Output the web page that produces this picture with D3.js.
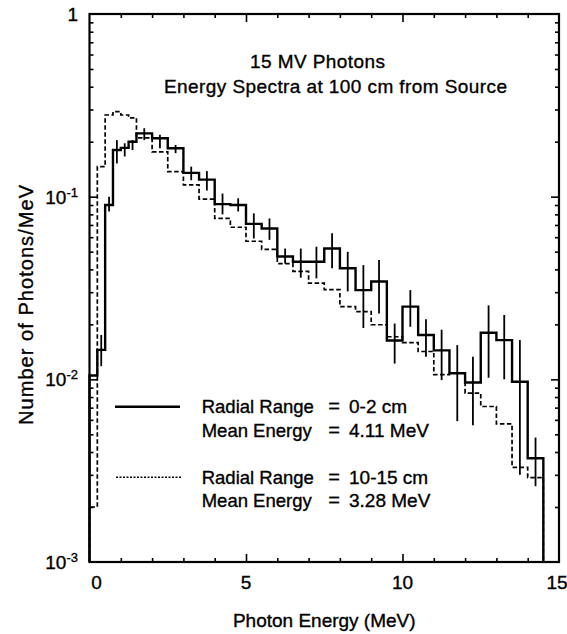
<!DOCTYPE html>
<html>
<head>
<meta charset="utf-8">
<script src="https://cdn.jsdelivr.net/npm/d3@7/dist/d3.min.js"></script>
<style>
  html, body { margin: 0; padding: 0; background: #fff; }
  svg text { font-family: "Liberation Sans", Arial, Helvetica, sans-serif; fill: #000; stroke: #000; stroke-width: 0.35; }
</style>
</head>
<body>
<svg id="chart" width="567" height="634"></svg>
<script>
// ---- data ----
const binEdges = [0, 0.25, 0.5, 0.75, 1.0, 1.25, 1.5, 2.0, 2.5, 3.0, 3.5, 4.0, 4.5, 5.0, 5.5, 6.0, 6.5, 7.0, 7.5, 8.0, 8.5, 9.0, 9.5, 10.0, 10.5, 11.0, 11.5, 12.0, 12.5, 13.0, 13.5, 14.0, 14.5];
// Radial Range 0-2 cm (solid)
const solidValues = [0.0105, 0.0145, 0.09, 0.18, 0.185, 0.20, 0.222, 0.209, 0.184, 0.135, 0.124, 0.091, 0.090, 0.071, 0.067, 0.047, 0.044, 0.044, 0.052, 0.0406, 0.0308, 0.0343, 0.0163, 0.025, 0.0175, 0.0144, 0.0108, 0.0096, 0.018, 0.0164, 0.0097, 0.0037];
const solidErrLow  = [null, 0.0118, 0.083, 0.152, 0.166, 0.180, 0.204, 0.184, 0.173, 0.123, 0.108, 0.080, 0.083, 0.059, 0.058, 0.043, 0.036, 0.0357, 0.0406, 0.0303, 0.0191, 0.0229, 0.0122, 0.0194, 0.0133, 0.0099, 0.0059, 0.0056, 0.0102, 0.0100, 0.0030, 0.0026];
const solidErrHigh = [null, 0.0175, 0.100, 0.204, 0.196, 0.204, 0.237, 0.218, 0.192, 0.146, 0.138, 0.104, 0.098, 0.081, 0.076, 0.052, 0.052, 0.0532, 0.063, 0.0499, 0.0422, 0.045, 0.0202, 0.0308, 0.0213, 0.0187, 0.0154, 0.0133, 0.0254, 0.0225, 0.0164, 0.0048];
// Radial Range 10-15 cm (dashed)
const dashedValues = [0.002, 0.146, 0.28, 0.292, 0.28, 0.27, 0.21, 0.176, 0.137, 0.116, 0.097, 0.076, 0.068, 0.057, 0.0515, 0.043, 0.039, 0.0336, 0.031, 0.025, 0.0235, 0.0199, 0.0171, 0.0159, 0.0142, 0.0106, 0.0108, 0.0084, 0.0071, 0.0057, 0.0033, 0.0029];

const xTickLabels = [0, 5, 10, 15];
const yMajorTicks = [1, 0.1, 0.01, 0.001];
const yTickLabels = [["1", ""], ["10", "-1"], ["10", "-2"], ["10", "-3"]];
const titleLines = ["15 MV Photons", "Energy Spectra at 100 cm from Source"];
const legendLabels = [["Radial Range", "0-2 cm"], ["Mean Energy", "4.11 MeV"], ["Radial Range", "10-15 cm"], ["Mean Energy", "3.28 MeV"]];
const xAxisTitle = "Photon Energy (MeV)";
const yAxisTitle = "Number of Photons/MeV";

// ---- layout ----
const L = 89.5, R = 559, T = 14, B = 562;
const svg = d3.select("#chart");
const x = d3.scaleLinear().domain([0, 15]).range([L, R]);
const y = d3.scaleLog().domain([1e-3, 1]).range([B, T]).clamp(true);

const xMinor = d3.range(1, 15).filter(d => d % 5 !== 0);
const xMajor = [5, 10];
const yMinor = [];
[0.001, 0.01, 0.1].forEach(p => { for (let k = 2; k <= 9; k++) yMinor.push(p * k); });
const yMajorInner = [0.1, 0.01];

function styleAxis(g) {
  g.select(".domain").remove();
  g.selectAll(".tick line").attr("stroke", "#000").attr("stroke-width", 1.6);
  g.selectAll(".tick text").remove();
}
svg.append("g").attr("transform", `translate(0,${B})`).call(d3.axisBottom(x).tickValues(xMinor).tickSize(-4).tickFormat("")).call(styleAxis);
svg.append("g").attr("transform", `translate(0,${B})`).call(d3.axisBottom(x).tickValues(xMajor).tickSize(-8).tickFormat("")).call(styleAxis);
svg.append("g").attr("transform", `translate(0,${T})`).call(d3.axisTop(x).tickValues(xMinor).tickSize(-4).tickFormat("")).call(styleAxis);
svg.append("g").attr("transform", `translate(0,${T})`).call(d3.axisTop(x).tickValues(xMajor).tickSize(-8).tickFormat("")).call(styleAxis);
svg.append("g").attr("transform", `translate(${L},0)`).call(d3.axisLeft(y).tickValues(yMinor).tickSize(-4).tickFormat("")).call(styleAxis);
svg.append("g").attr("transform", `translate(${L},0)`).call(d3.axisLeft(y).tickValues(yMajorInner).tickSize(-8).tickFormat("")).call(styleAxis);
svg.append("g").attr("transform", `translate(${R},0)`).call(d3.axisRight(y).tickValues(yMinor).tickSize(-4).tickFormat("")).call(styleAxis);
svg.append("g").attr("transform", `translate(${R},0)`).call(d3.axisRight(y).tickValues(yMajorInner).tickSize(-8).tickFormat("")).call(styleAxis);

svg.append("rect").attr("x", L).attr("y", T).attr("width", R - L).attr("height", B - T)
  .attr("fill", "none").attr("stroke", "#000").attr("stroke-width", 2.2);

// x tick labels
svg.selectAll(".xlab").data(xTickLabels).enter().append("text")
  .attr("x", d => x(d) + (d === 0 ? 7 : (d === 15 ? -2 : 0))).attr("y", B + 27)
  .attr("text-anchor", "middle").attr("font-size", 19).text(d => d);

// y tick labels
yMajorTicks.forEach((v, i) => {
  const t = svg.append("text").attr("x", 78).attr("y", y(v) + 7)
    .attr("text-anchor", "end").attr("font-size", 19);
  t.append("tspan").text(yTickLabels[i][0]);
  if (yTickLabels[i][1]) {
    t.append("tspan").attr("font-size", 13).attr("dy", -7).text(yTickLabels[i][1]);
  }
});

function stepPoints(vals) {
  const pts = [[binEdges[0], 1e-3]];
  vals.forEach((v, i) => { pts.push([binEdges[i], v]); pts.push([binEdges[i + 1], v]); });
  pts.push([binEdges[binEdges.length - 1], 1e-3]);
  return pts;
}
const line = d3.line().x(d => x(d[0])).y(d => y(d[1]));

const plot = svg.append("g");
plot.append("path").attr("d", line(stepPoints(dashedValues)))
  .attr("fill", "none").attr("stroke", "#000").attr("stroke-width", 1.7).attr("stroke-dasharray", "4.5,2.5");
plot.append("path").attr("d", line(stepPoints(solidValues)))
  .attr("fill", "none").attr("stroke", "#000").attr("stroke-width", 2.4);

const errs = solidValues.map((v, i) => ({ c: (binEdges[i] + binEdges[i + 1]) / 2, lo: solidErrLow[i], hi: solidErrHigh[i] }))
  .filter(d => d.lo !== null);
plot.selectAll(".err").data(errs).enter().append("line")
  .attr("x1", d => x(d.c)).attr("x2", d => x(d.c))
  .attr("y1", d => y(d.lo)).attr("y2", d => y(d.hi))
  .attr("stroke", "#000").attr("stroke-width", 1.8);

// title
svg.append("text").attr("x", 250).attr("y", 68).attr("font-size", 19)
  .attr("textLength", 135).attr("lengthAdjust", "spacing").text(titleLines[0]);
svg.append("text").attr("x", 164).attr("y", 93).attr("font-size", 19)
  .attr("textLength", 343).attr("lengthAdjust", "spacing").text(titleLines[1]);

// legend
const legY = [413, 436.7, 484, 506.7];
legendLabels.forEach((lab, i) => {
  svg.append("text").attr("x", 201.7).attr("y", legY[i]).attr("font-size", 18.5).text(lab[0]);
  svg.append("text").attr("x", 334).attr("y", legY[i]).attr("font-size", 20).attr("text-anchor", "middle").text("=");
  svg.append("text").attr("x", 349).attr("y", legY[i]).attr("font-size", 19).text(lab[1]);
});
svg.append("line").attr("x1", 115).attr("x2", 180).attr("y1", 406.7).attr("y2", 406.7)
  .attr("stroke", "#000").attr("stroke-width", 2.4);
svg.append("line").attr("x1", 116).attr("x2", 182).attr("y1", 477.3).attr("y2", 477.3)
  .attr("stroke", "#000").attr("stroke-width", 1.4).attr("stroke-dasharray", "2,1.5");

// axis titles
svg.append("text").attr("x", (L + R) / 2).attr("y", 627).attr("text-anchor", "middle").attr("font-size", 19).text(xAxisTitle);
svg.append("text").attr("transform", `translate(33,305) rotate(-90)`)
  .attr("text-anchor", "middle").attr("font-size", 20)
  .attr("textLength", 240).attr("lengthAdjust", "spacing").text(yAxisTitle);
</script>
</body>
</html>
